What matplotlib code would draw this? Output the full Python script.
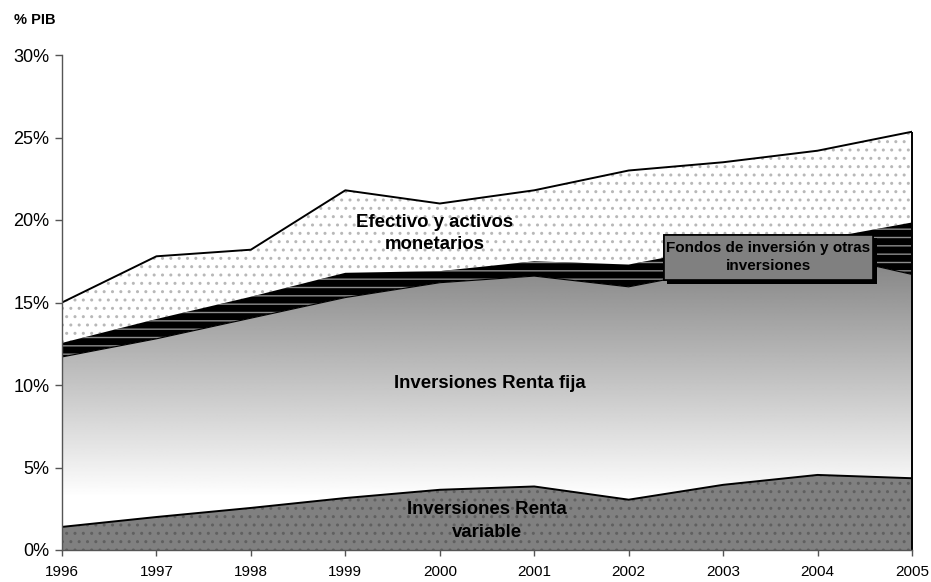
import numpy as np
import matplotlib
matplotlib.use("Agg")
import matplotlib.pyplot as plt
from matplotlib import patheffects
from matplotlib.patches import Rectangle
from matplotlib.ticker import FuncFormatter

plt.rcParams['font.family'] = ['Liberation Sans', 'DejaVu Sans']
plt.rcParams['hatch.linewidth'] = 1.0

years = [1996, 1997, 1998, 1999, 2000, 2001, 2002, 2003, 2004, 2005]
# % del PIB, capas apiladas de abajo arriba
renta_variable = [1.40, 2.00, 2.55, 3.15, 3.65, 3.85, 3.05, 3.95, 4.55, 4.35]
renta_fija = [10.30, 10.80, 11.50, 12.15, 12.55, 12.75, 12.90, 13.10, 13.45, 12.35]
fondos = [0.85, 1.20, 1.30, 1.50, 0.70, 0.90, 1.35, 1.35, 0.80, 3.15]
efectivo = [2.45, 3.80, 2.85, 5.00, 4.10, 4.30, 5.70, 5.10, 5.40, 5.50]

x = np.array(years)
c1 = np.array(renta_variable)
c2 = c1 + np.array(renta_fija)
c3 = c2 + np.array(fondos)
c4 = c3 + np.array(efectivo)

fig = plt.figure(figsize=(9.31, 5.82), dpi=100)
ax = fig.add_axes([62/931, 32/582, 850/931, 495/582])

# efectivo: blanco con puntos grises
ax.fill_between(x, c3, c4, facecolor='white', edgecolor='#b8b8b8', hatch='..', linewidth=0, zorder=1)
ax.plot(x, c4, color='black', lw=1.4, zorder=5)

# fondos: negro con rayas grises
ax.fill_between(x, c2, c3, facecolor='black', edgecolor='#8c8c8c', hatch='--', linewidth=0, zorder=2)

# renta fija: degradado gris -> blanco
poly = ax.fill_between(x, c1, c2, facecolor='none', linewidth=0, zorder=2)
ymax = 19.0
grad = np.clip(0.54 + (17 - np.linspace(ymax, 0, 256)) * 0.0333, 0, 1)
img = ax.imshow(np.tile(grad[:, None], (1, 2)), cmap='gray', vmin=0, vmax=1,
                extent=[years[0], years[-1], 0, ymax], aspect='auto', zorder=2,
                interpolation='bilinear')
img.set_clip_path(poly.get_paths()[0], transform=ax.transData)
ax.plot(x, c2, color='black', lw=0.8, zorder=3)

# renta variable: gris con puntos oscuros
ax.fill_between(x, 0, c1, facecolor='#808080', edgecolor='#606060', hatch='..', linewidth=0, zorder=3)
ax.plot(x, c1, color='black', lw=1.4, zorder=5)

ax.vlines(years[-1], 0, c4[-1], color='black', lw=1.4, zorder=6, clip_on=False)

ax.set_xlim(years[0], years[-1])
ax.set_ylim(0, 30)

for s in ['top', 'right']:
    ax.spines[s].set_visible(False)
for s in ['left', 'bottom']:
    ax.spines[s].set_color('#555555')
    ax.spines[s].set_linewidth(1.0)
    ax.spines[s].set_zorder(7)

ax.set_xticks(years)
ax.set_yticks(range(0, 31, 5))
ax.yaxis.set_major_formatter(FuncFormatter(lambda v, p: f"{int(v)}%"))
ax.tick_params(axis='y', labelsize=13, length=5, width=1, color='#555555', pad=4)
ax.tick_params(axis='x', labelsize=11, length=4, width=1, color='#555555', pad=7)

fig.text(14/931, 1 - 20/582, '% PIB', fontsize=10.5, fontweight='bold', va='center', ha='left')

lab = dict(fontsize=13.4, fontweight='bold', ha='center', va='center', zorder=8, linespacing=1.4)
ax.text(1999.95, 19.2, 'Efectivo y activos\nmonetarios', **lab)
ax.text(2000.53, 10.1, 'Inversiones Renta fija', **lab)
ax.text(2000.5, 1.76, 'Inversiones Renta\nvariable', **lab)

box = Rectangle((2002.37, 16.36), 2.22, 2.74, facecolor='#808080', edgecolor='black',
                linewidth=1.2, zorder=9)
box.set_path_effects([patheffects.withSimplePatchShadow(offset=(2.5, -2.5), shadow_rgbFace='black', alpha=1.0),
                      patheffects.Normal()])
ax.add_patch(box)
ax.text(2003.48, 17.75, 'Fondos de inversión y otras\ninversiones', fontsize=11, fontweight='bold',
        ha='center', va='center', zorder=10, linespacing=1.3)

fig.savefig('out.png', dpi=100)
